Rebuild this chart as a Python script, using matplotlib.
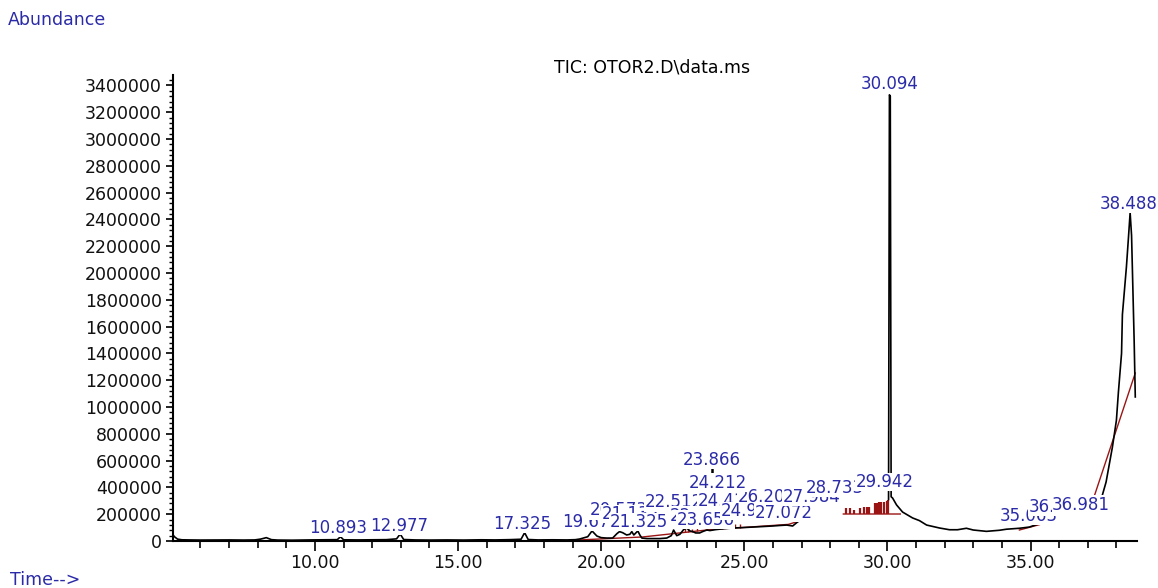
import matplotlib
matplotlib.use('Agg')
import matplotlib.pyplot as plt
from matplotlib.ticker import MultipleLocator, FuncFormatter
import numpy as np

nan = np.nan

# total ion chromatogram (minutes, abundance); nan = gap in the drawn trace
tic_time = [5.04, 5.10, 5.20, 5.35, 5.60, 6.00, 6.50, 7.00, 7.50, 7.90, 8.10, 8.30, 8.48, 8.70,
            9.20, 9.80, 10.30, 10.78, 10.89, 11.00, 11.50, 12.00, 12.50, 12.85, 12.977, 13.10,
            13.50, 14.00, 14.60, 15.20, 15.80, 16.30, 16.80, 17.20, 17.325, 17.45, 17.80, 18.30,
            18.80, 19.10, 19.25, 19.53, 19.68, 19.85, 20.00, 20.19, 20.40, 20.55, 20.64, 20.75,
            20.89, 21.00, 21.07, 21.14, 21.21, 21.28, 21.35, 21.42, 21.60, 21.80, 22.05, 22.29,
            22.45, 22.53, 22.64, 22.75, 22.88, 22.99, 23.10, 23.20, 23.30, 23.44, 23.54, 23.69,
            23.80, 24.00, 24.30, 24.59, 24.95, 25.29, 25.65, 25.99, 26.25, 26.48, 26.69, 26.86,
            27.04, nan,
            30.04, 30.07, 30.10, 30.13, 30.18, 30.32, 30.53, 30.88, 31.12, 31.37, 31.82, 32.17,
            32.45, 32.76, 33.00, 33.46, 33.91, 34.16, 34.61, 34.96, 35.31, 35.66, nan,
            37.51, 37.64, 37.86, 38.00, 38.07, 38.18, 38.21, 38.35, 38.42, 38.48, 38.53, 38.62, 38.66]
tic_abund = [45000, 30000, 14000, 9000, 8000, 7000, 7500, 8000, 7000, 8000, 14000, 25000, 10000, 7000,
             6000, 8000, 9000, 10000, 32000, 9000, 8000, 9000, 10000, 16000, 52000, 11000,
             8000, 7000, 8000, 7000, 9000, 8000, 10000, 13000, 62000, 11000, 8000, 9000,
             8000, 10000, 15000, 32000, 75000, 37000, 25000, 22000, 22000, 55000, 70000, 62000,
             45000, 50000, 70000, 45000, 60000, 75000, 45000, 22000, 18000, 18000, 18000, 22000,
             40000, 82000, 40000, 50000, 85000, 97000, 75000, 70000, 60000, 60000, 70000, 82000,
             78000, 85000, 92000, 97000, 100000, 104000, 108000, 112000, 116000, 119000, 112000, 142000,
             164000, nan,
             310000, 3330000, 3320000, 330000, 321000, 269000, 216000, 172000, 152000, 119000, 97000, 84000,
             84000, 95000, 82000, 72000, 80000, 88000, 95000, 104000, 130000, 136000, nan,
             343000, 440000, 700000, 900000, 1110000, 1400000, 1690000, 2045000, 2260000, 2450000, 2280000,
             1500000, 1075000]

# apex fragments of the narrow peaks whose bodies are not drawn
apex_time = [23.866, 24.03, 24.212]
apex_abund = [530000, 366000, 366000]

# integration baselines (red)
base_time = [19.14, 21.44, 23.04, 24.04, 25.04, 26.54, 26.86, 27.04, nan,
             28.46, 30.45, nan, 34.61, 35.31, nan, 37.24, 38.66]
base_abund = [7000, 30000, 67000, 90000, 102000, 124000, 145000, 168000, nan,
              201500, 201500, nan, 82000, 122000, nan, 343000, 1254000]

# small integration marks along the 23-25 min baseline
mark_time = [22.92, 23.03, 23.16, 23.34, 23.69, 23.86, 23.96, 24.07, 24.21, 24.31, 24.49, 24.66, 24.84]
mark_lo = [65000, 67000, 70000, 76000, 84000, 88000, 90000, 91000, 93000, 94000, 96000, 98000, 100000]
mark_hi = [104000, 100000, 92000, 100000, 110000, 118000, 122000, 125000, 122000, 122000, 122000, 125000, 125000]

# integration bars before the main peak
bar_time = [28.54, 28.71, 28.85, 29.03, 29.17, 29.27, 29.34, 29.55, 29.62, 29.69, 29.79, 29.87, 29.98, 30.01]
bar_top = [246000, 246000, 231000, 246000, 254000, 254000, 254000, 284000, 284000, 291000, 291000,
           291000, 298000, 306000]
bar_floor = 201500

# peak labels
peak_labels = ['10.893', '12.977', '17.325', '19.678', '20.573', '21.132', '21.325', '22.512',
               '22.985', '23.656', '24.415', '26.205', '24.951', '27.072', '27.984', '28.733',
               '23.866', '24.212', '29.942', '30.094', '35.063', '36.014', '36.981', '38.488']
label_x = [10.80, 12.93, 17.23, 19.64, 20.61, 21.03, 21.31, 22.53,
           23.40, 23.65, 24.38, 25.78, 25.18, 26.37, 27.35, 28.15,
           23.86, 24.07, 29.90, 30.07, 34.93, 35.94, 36.77, 38.41]
label_y = [97000, 112000, 127000, 142000, 228000, 204000, 140000, 288000,
           190000, 160000, 295000, 325000, 222000, 212000, 330000, 398000,
           606000, 436000, 442000, 3410000, 190000, 256000, 272000, 2515000]

# dotted leaders (label index -> point)
leader_idx = [14, 15]
leader_x = [25.64, 26.90]
leader_y = [194000, 250000]

blue = '#2b2ba8'
red = '#9a1414'

plt.rcParams['font.family'] = ['DejaVu Sans']

fig = plt.figure(figsize=(11.58, 5.88), dpi=100)
fig.patch.set_facecolor('white')
ax = fig.add_axes([173/1158, 47/588, 964/1158, 466/588])

ax.plot(tic_time, tic_abund, color='black', lw=1.2, zorder=3)
ax.plot(apex_time, apex_abund, ls='none', marker='|', ms=5, mew=1.8, color='black', zorder=3)
ax.plot(base_time, base_abund, color=red, lw=1.0, zorder=2)
ax.vlines(mark_time, mark_lo, mark_hi, color=red, lw=1.0, zorder=2)
ax.vlines(bar_time, bar_floor, bar_top, color=red, lw=1.6, zorder=2)

for i, j in enumerate(leader_idx):
    ax.annotate('', xy=(leader_x[i], leader_y[i]), xytext=(label_x[j], label_y[j]),
                arrowprops=dict(arrowstyle='-', ls=':', color='#e07070', lw=1.0), zorder=4)

for i, txt in enumerate(peak_labels):
    ax.text(label_x[i], label_y[i], txt, color=blue, fontsize=12, ha='center', va='center',
            zorder=5 + i, clip_on=False,
            bbox=dict(facecolor='white', edgecolor='none', pad=0.1))

ax.set_xlim(5.04, 38.72)
ax.set_ylim(0, 3478000)

for side in ['top', 'right']:
    ax.spines[side].set_visible(False)
ax.spines['left'].set_linewidth(1.5)
ax.spines['bottom'].set_linewidth(1.5)

ax.xaxis.set_major_locator(MultipleLocator(5))
ax.xaxis.set_minor_locator(MultipleLocator(1))
ax.xaxis.set_major_formatter(FuncFormatter(lambda v, p: '%.2f' % v if v >= 10 else ''))
ax.yaxis.set_major_locator(MultipleLocator(200000))
ax.yaxis.set_minor_locator(MultipleLocator(40000))
ax.yaxis.set_major_formatter(FuncFormatter(lambda v, p: '%d' % v))

ax.tick_params(axis='x', which='major', length=7, width=1.3, pad=2, labelsize=12.5, colors='#111111')
ax.tick_params(axis='x', which='minor', length=5, width=1.2)
ax.tick_params(axis='y', which='major', length=5, width=1.3, pad=3, labelsize=12.5, colors='#111111')
ax.tick_params(axis='y', which='minor', length=3, width=1.0)

fig.text(652/1158, 1 - 68/588, 'TIC: OTOR2.D\\data.ms', ha='center', va='center', fontsize=12.5, color='black')
fig.text(8/1158, 1 - 20/588, 'Abundance', ha='left', va='center', fontsize=12.5, color=blue)
fig.text(10/1158, 1 - 580/588, 'Time-->', ha='left', va='center', fontsize=12.5, color=blue)

fig.savefig('out.png', dpi=100, facecolor='white')
